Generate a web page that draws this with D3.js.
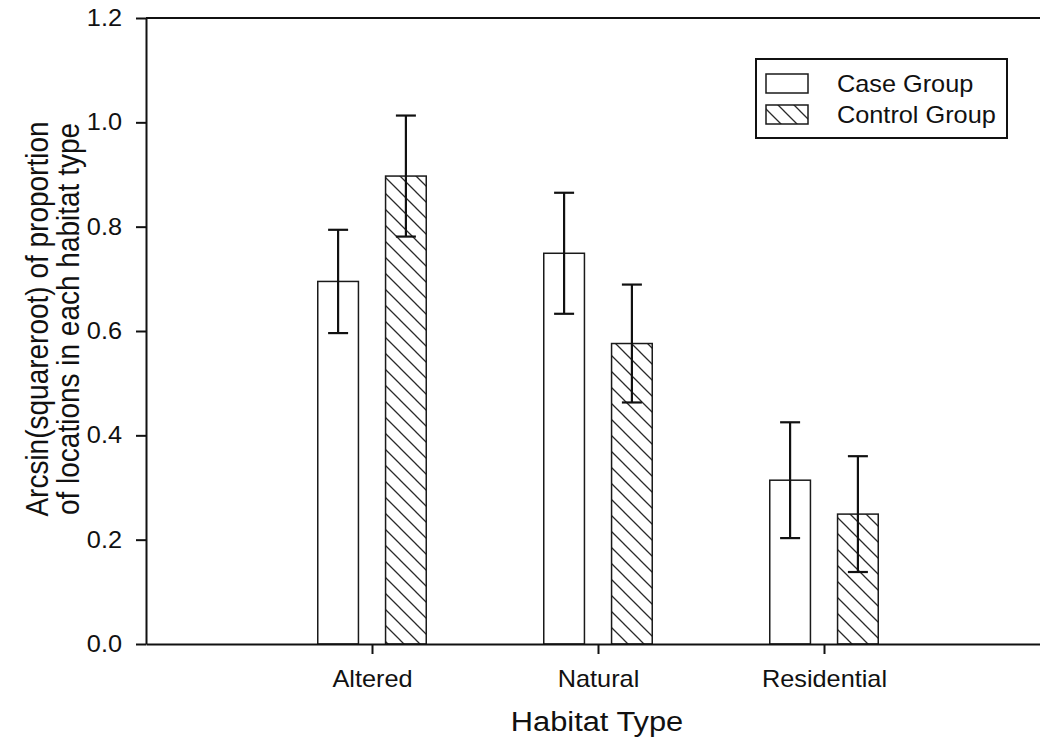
<!DOCTYPE html>
<html>
<head>
<meta charset="utf-8">
<script src="https://cdn.jsdelivr.net/npm/d3@7"></script>
<style>
  html, body { margin: 0; padding: 0; background: #fff; }
  svg { display: block; }
  text { font-family: "Liberation Sans", Arial, sans-serif; fill: #111; }
</style>
</head>
<body>
<svg id="chart" width="1040" height="742"></svg>
<script>
// Habitat categories and group means with standard errors
const categories = ["Altered", "Natural", "Residential"];
const caseMeans = [0.695, 0.749, 0.314];
const caseErr = [0.099, 0.116, 0.111];
const controlMeans = [0.897, 0.576, 0.249];
const controlErr = [0.116, 0.113, 0.111];
const seriesNames = ["Case Group", "Control Group"];
const yTicks = [0.0, 0.2, 0.4, 0.6, 0.8, 1.0, 1.2];

const svg = d3.select("#chart");
const W = 1040, H = 742;
const plot = { left: 146, top: 18, bottom: 644, right: 1050 };
const stretch = 1.1; // horizontal text stretch

// Category positions 1..3 on a linear axis from 0 to 4
const x = d3.scaleLinear().domain([0, 4]).range([plot.left, plot.right]);
const y = d3.scaleLinear().domain([0, 1.2]).range([plot.bottom, plot.top]);

const barW = 0.18;   // in category units
const offset = 0.15; // centre offset of each bar from the category tick

// Diagonal hatch fill for the control group
const defs = svg.append("defs");
const pat = defs.append("pattern")
  .attr("id", "hatch")
  .attr("patternUnits", "userSpaceOnUse")
  .attr("width", 16).attr("height", 16);
pat.append("rect").attr("width", 16).attr("height", 16).attr("fill", "#fff");
pat.append("path")
  .attr("d", "M-4,-4 L20,20 M-4,12 L4,20 M12,-4 L20,4")
  .attr("stroke", "#2a2a2a").attr("stroke-width", 1.3);

const rows = categories.map((c, i) => ({
  cat: c, idx: i + 1,
  groups: [
    { name: seriesNames[0], mean: caseMeans[i], err: caseErr[i], dx: -offset, fill: "#fff" },
    { name: seriesNames[1], mean: controlMeans[i], err: controlErr[i], dx: offset, fill: "url(#hatch)" }
  ]
}));
const bars = rows.flatMap(r => r.groups.map(g => Object.assign({ idx: r.idx }, g)));

// Frame top line
svg.append("line")
  .attr("x1", plot.left).attr("x2", plot.right)
  .attr("y1", plot.top).attr("y2", plot.top)
  .attr("stroke", "#111").attr("stroke-width", 2);

// Bars
svg.append("g").selectAll("rect").data(bars).join("rect")
  .attr("x", d => x(d.idx + d.dx - barW / 2))
  .attr("width", d => x(d.idx + d.dx + barW / 2) - x(d.idx + d.dx - barW / 2))
  .attr("y", d => y(d.mean))
  .attr("height", d => y(0) - y(d.mean))
  .attr("fill", d => d.fill)
  .attr("stroke", "#1a1a1a").attr("stroke-width", 1.5);

// Error bars
const eb = svg.append("g").attr("stroke", "#111").attr("stroke-width", 2.2);
const capHalf = 10;
eb.selectAll("line.v").data(bars).join("line").attr("class", "v")
  .attr("x1", d => x(d.idx + d.dx)).attr("x2", d => x(d.idx + d.dx))
  .attr("y1", d => y(d.mean + d.err)).attr("y2", d => y(d.mean - d.err));
eb.selectAll("line.t").data(bars).join("line").attr("class", "t")
  .attr("x1", d => x(d.idx + d.dx) - capHalf).attr("x2", d => x(d.idx + d.dx) + capHalf)
  .attr("y1", d => y(d.mean + d.err)).attr("y2", d => y(d.mean + d.err));
eb.selectAll("line.b").data(bars).join("line").attr("class", "b")
  .attr("x1", d => x(d.idx + d.dx) - capHalf).attr("x2", d => x(d.idx + d.dx) + capHalf)
  .attr("y1", d => y(d.mean - d.err)).attr("y2", d => y(d.mean - d.err));

// Y axis
const yAxis = svg.append("g")
  .attr("transform", `translate(${plot.left},0)`)
  .call(d3.axisLeft(y).tickValues(yTicks).tickFormat(d3.format(".1f")).tickSize(10).tickSizeOuter(0));
yAxis.select(".domain").attr("stroke", "#111").attr("stroke-width", 2);
yAxis.selectAll(".tick line").attr("stroke", "#111").attr("stroke-width", 2);
yAxis.selectAll(".tick text")
  .attr("x", -24 / stretch)
  .attr("transform", `scale(${stretch},1)`)
  .style("font-size", "23px").attr("fill", "#111");

// X axis
const xAxis = svg.append("g")
  .attr("transform", `translate(0,${plot.bottom})`)
  .call(d3.axisBottom(x).tickValues(rows.map(r => r.idx)).tickFormat((d, i) => categories[i]).tickSize(10).tickSizeOuter(0));
xAxis.select(".domain").attr("stroke", "#111").attr("stroke-width", 2);
xAxis.selectAll(".tick line").attr("stroke", "#111").attr("stroke-width", 2);
xAxis.selectAll(".tick text")
  .attr("y", 43).attr("dy", 0)
  .attr("transform", `scale(${stretch},1)`)
  .style("font-size", "23px").attr("fill", "#111");

// Axis titles
svg.append("text")
  .attr("transform", `translate(${(plot.left + 1048) / 2},731) scale(${stretch},1)`)
  .attr("text-anchor", "middle")
  .style("font-size", "28px")
  .text("Habitat Type");

const yTitle = ["Arcsin(squareroot) of proportion", "of locations in each habitat type"];
svg.append("g").selectAll("text").data(yTitle).join("text")
  .attr("transform", (d, i) => `translate(${48 + i * 31},319) scale(${stretch},1) rotate(-90)`)
  .attr("text-anchor", "middle")
  .style("font-size", "28px")
  .text(d => d);

// Legend
const lg = svg.append("g");
lg.append("rect")
  .attr("x", 756).attr("y", 59).attr("width", 251).attr("height", 79)
  .attr("fill", "#fff").attr("stroke", "#111").attr("stroke-width", 2);
const legendItems = [
  { name: seriesNames[0], fill: "#fff" },
  { name: seriesNames[1], fill: "url(#hatch)" }
];
const li = lg.selectAll("g.item").data(legendItems).join("g").attr("class", "item")
  .attr("transform", (d, i) => `translate(0,${i * 31})`);
li.append("rect")
  .attr("x", 766).attr("y", 74).attr("width", 42).attr("height", 19)
  .attr("fill", d => d.fill).attr("stroke", "#1a1a1a").attr("stroke-width", 1.5);
li.append("text")
  .attr("transform", `translate(837,92) scale(${stretch},1)`)
  .style("font-size", "23px")
  .text(d => d.name);
</script>
</body>
</html>
